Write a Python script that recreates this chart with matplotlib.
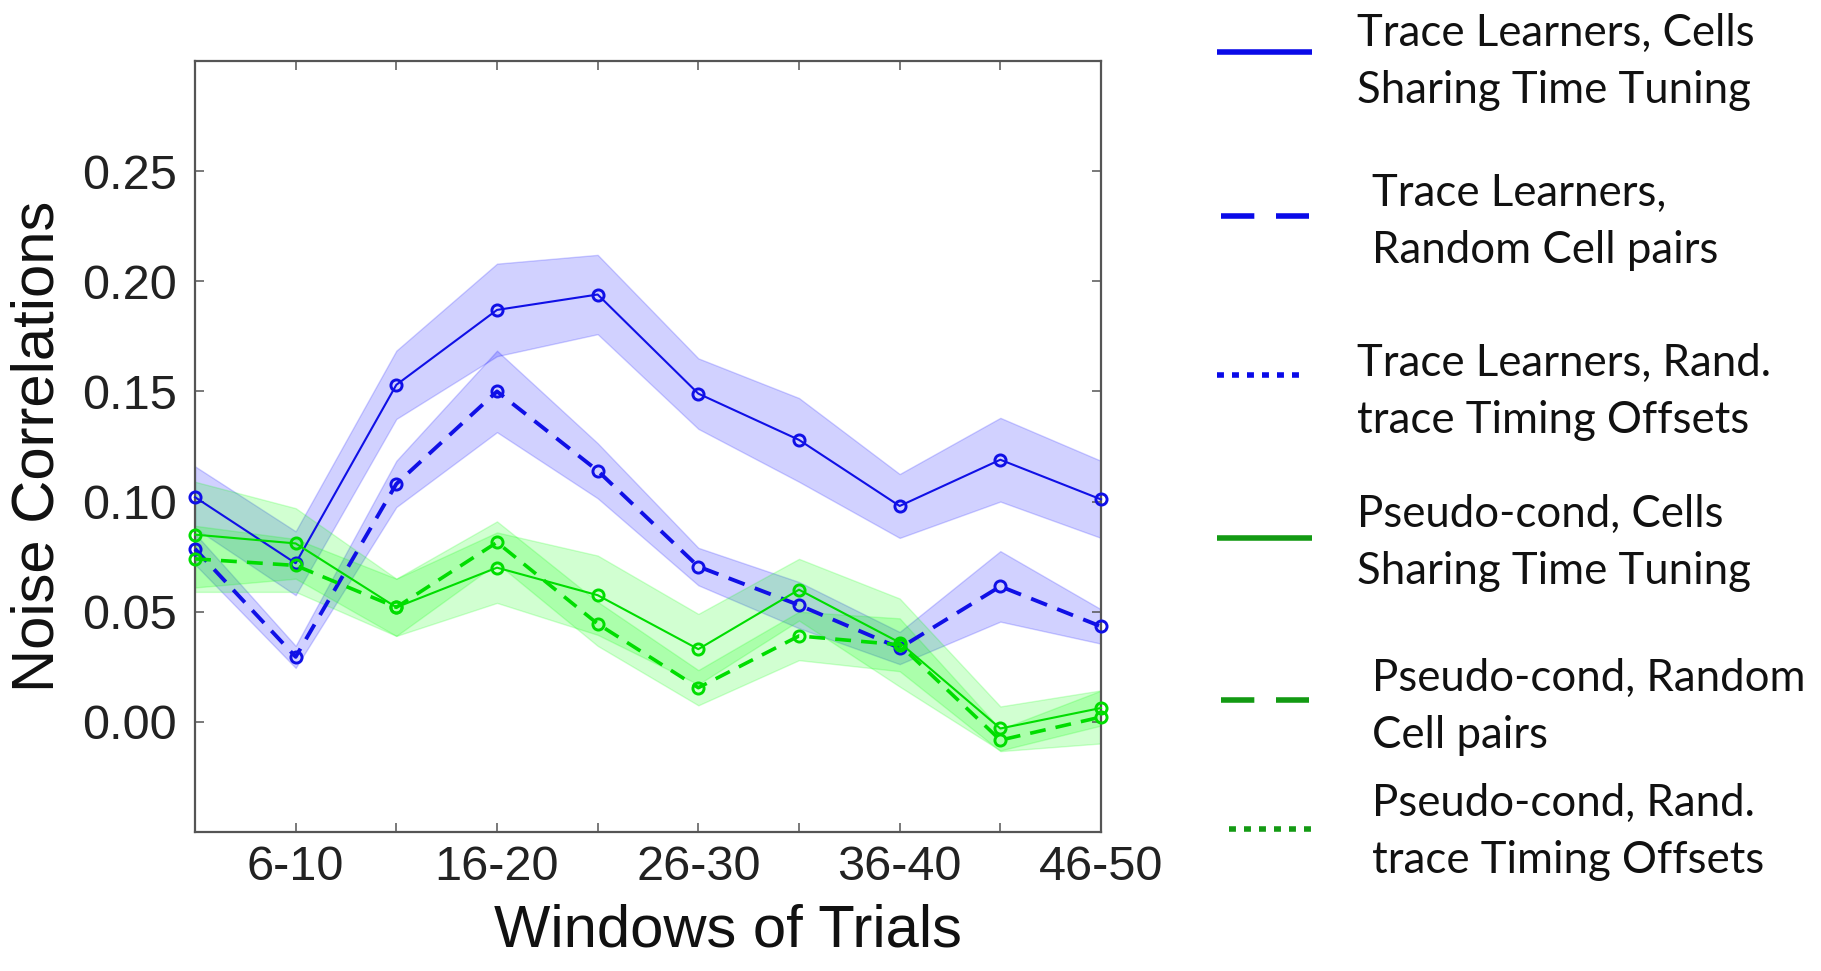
import numpy as np
import matplotlib
matplotlib.use("Agg")
import matplotlib.pyplot as plt

plt.rcParams["font.family"] = ["Liberation Sans", "DejaVu Sans"]

# ---- data -------------------------------------------------------------
windows = np.arange(1, 11)
window_labels = ["", "6-10", "", "16-20", "", "26-30", "", "36-40", "", "46-50"]
y_ticks = [0.00, 0.05, 0.10, 0.15, 0.20, 0.25]

trace_shared_mean = [0.102, 0.072, 0.153, 0.187, 0.194, 0.149, 0.128, 0.098, 0.119, 0.101]
trace_shared_sem = [0.014, 0.0145, 0.0155, 0.021, 0.018, 0.016, 0.019, 0.0145, 0.019, 0.0175]

trace_random_mean = [0.0785, 0.0295, 0.108, 0.150, 0.114, 0.0705, 0.053, 0.0335, 0.0615, 0.0433]
trace_random_sem = [0.007, 0.005, 0.0105, 0.0185, 0.0125, 0.0085, 0.0105, 0.0073, 0.016, 0.0078]

pseudo_shared_mean = [0.085, 0.081, 0.052, 0.070, 0.0575, 0.033, 0.060, 0.036, -0.003, 0.0063]
pseudo_shared_sem = [0.024, 0.016, 0.013, 0.016, 0.018, 0.016, 0.014, 0.020, 0.010, 0.008]

pseudo_random_mean = [0.074, 0.071, 0.052, 0.0815, 0.0445, 0.0155, 0.039, 0.035, -0.0083, 0.0022]
pseudo_random_sem = [0.015, 0.012, 0.013, 0.0095, 0.010, 0.008, 0.011, 0.012, 0.005, 0.012]

legend_labels = [
    "Trace Learners, Cells\nSharing Time Tuning",
    "Trace Learners,\nRandom Cell pairs",
    "Trace Learners, Rand.\ntrace Timing Offsets",
    "Pseudo-cond, Cells\nSharing Time Tuning",
    "Pseudo-cond, Random\nCell pairs",
    "Pseudo-cond, Rand.\ntrace Timing Offsets",
]

# ---- styling ------------------------------------------------------------
W, H = 1821, 971
BLUE = "#1010e6"
GREEN = "#00dd00"
BLUE_FILL = "#0000ff"
GREEN_FILL = "#00ff00"
LEG_BLUE = "#0a0ae8"
LEG_GREEN = "#139a13"
AXIS_GRAY = "#555555"

fig = plt.figure(figsize=(W / 100, H / 100), dpi=100)
fig.patch.set_facecolor("white")

# main axes box, in pixels: left, top, right, bottom
L, T, R, B = 195, 61, 1101, 832
ax = fig.add_axes([L / W, 1 - B / H, (R - L) / W, (B - T) / H])

dash_style = (0, (4.4, 2.8))
series = [
    (trace_shared_mean, trace_shared_sem, BLUE, BLUE_FILL, "-", 1.5),
    (trace_random_mean, trace_random_sem, BLUE, BLUE_FILL, dash_style, 2.8),
    (pseudo_shared_mean, pseudo_shared_sem, GREEN, GREEN_FILL, "-", 1.5),
    (pseudo_random_mean, pseudo_random_sem, GREEN, GREEN_FILL, dash_style, 2.6),
]

for mean, sem, color, fill, ls, lw in series:
    m = np.asarray(mean)
    s = np.asarray(sem)
    ax.fill_between(windows, m - s, m + s, facecolor=fill, edgecolor=fill,
                    alpha=0.18, linewidth=1.0, zorder=1)

for mean, sem, color, fill, ls, lw in series:
    ax.plot(windows, mean, linestyle=ls, color=color, linewidth=lw,
            marker="o", markersize=8, markerfacecolor="none",
            markeredgecolor=color, markeredgewidth=2.1,
            clip_on=False, zorder=3)

ax.set_xlim(1, 10)
ax.set_ylim(-0.05, 0.30)
ax.set_xticks(windows)
ax.set_xticklabels(window_labels)
ax.set_yticks(y_ticks)
ax.set_yticklabels([f"{v:.2f}" for v in y_ticks])

ax.tick_params(direction="in", length=6.5, width=1.1, colors=AXIS_GRAY,
               top=True, right=True, labelsize=35, labelcolor="#222222")
ax.tick_params(axis="x", pad=9)
ax.tick_params(axis="y", pad=13)
for sp in ax.spines.values():
    sp.set_color(AXIS_GRAY)
    sp.set_linewidth(1.6)

ax.set_ylabel("Noise Correlations", fontsize=43, color="#111111", va="center")
ax.yaxis.set_label_coords((38 - L) / (R - L), 0.5)
ax.set_xlabel("Windows of Trials", fontsize=43, color="#111111", va="center")
ax.xaxis.set_label_coords((728 - L) / (R - L), (B - 931) / (B - T))

# ---- legend panel (pixel coordinates on an overlay) ---------------------
lax = fig.add_axes([0, 0, 1, 1])
lax.set_xlim(0, W)
lax.set_ylim(H, 0)
lax.axis("off")

leg_colors = [LEG_BLUE, LEG_BLUE, LEG_BLUE, LEG_GREEN, LEG_GREEN, LEG_GREEN]
leg_styles = ["-", (0, (6.0, 3.9)), (0, (1.25, 1.45)),
              "-", (0, (6.0, 3.9)), (0, (1.25, 1.45))]
handle_x = [(1217, 1312), (1221, 1309), (1217, 1307),
            (1217, 1312), (1221, 1309), (1229, 1318)]
handle_y = [52, 216, 375, 538, 700, 829]
text_x = [1357, 1372, 1357, 1357, 1372, 1372]
text_y = [62, 222, 392, 543, 707, 832]

for lab, c, st, hx, hy, tx, ty in zip(legend_labels, leg_colors, leg_styles,
                                       handle_x, handle_y, text_x, text_y):
    lax.plot(hx, [hy, hy], color=c, linestyle=st, linewidth=4.0,
             solid_capstyle="butt", dash_capstyle="butt")
    lax.text(tx, ty, lab, fontsize=31.5, family=["Lato", "DejaVu Sans"],
             color="#111111", va="center", ha="left", linespacing=1.5)

fig.savefig("out.png", dpi=100, facecolor="white")
